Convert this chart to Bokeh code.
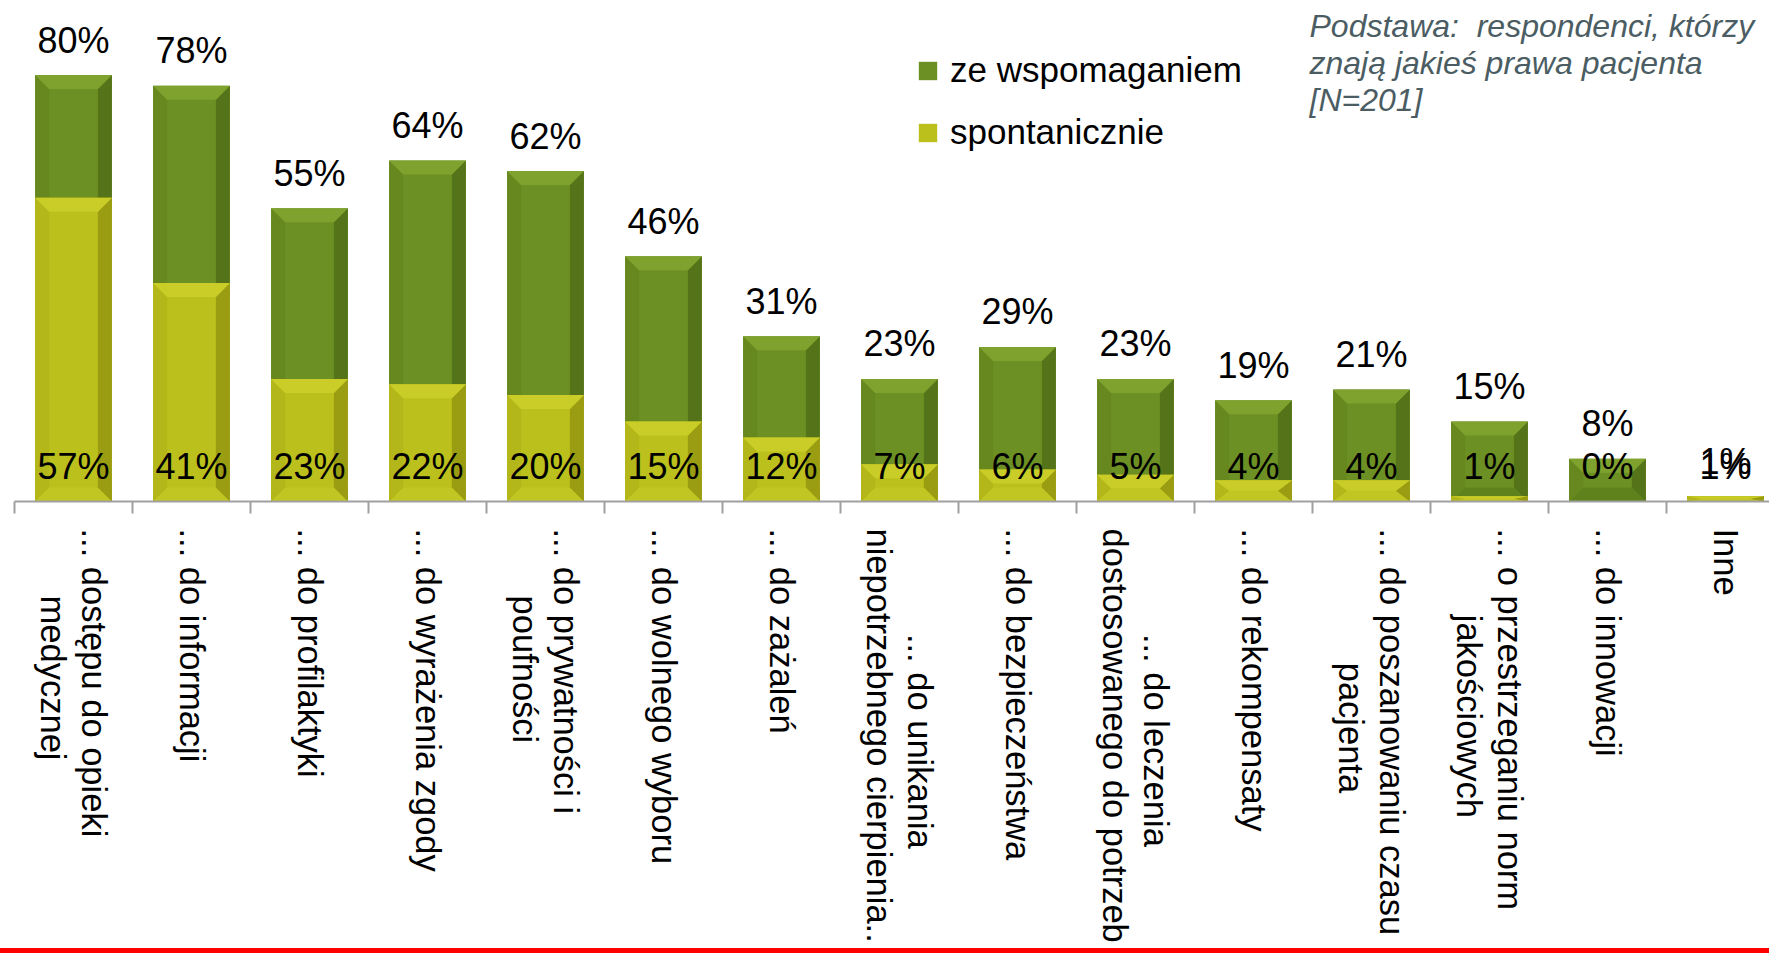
import numpy as np
from bokeh.plotting import figure
from bokeh.models import (Range1d, LinearAxis, FixedTicker, Legend, LegendItem,
                          Label, ColumnDataSource, Div)
from bokeh.layouts import column
from bokeh.core.properties import value
from bokeh.embed import file_html
from bokeh.resources import INLINE

# ---------------- data ----------------
categories = [
    "... dostępu do opieki\nmedycznej",
    "... do informacji",
    "... do profilaktyki",
    "... do wyrażenia zgody",
    "... do prywatności i\npoufności",
    "... do wolnego wyboru",
    "... do zażaleń",
    "... do unikania\nniepotrzebnego cierpienia..",
    "... do bezpieczeństwa",
    "... do leczenia\ndostosowanego do potrzeb",
    "... do rekompensaty",
    "... do poszanowaniu czasu\npacjenta",
    "... o przestrzeganiu norm\njakościowych",
    "... do innowacji",
    "Inne",
]
ze_wspomaganiem = [80, 78, 55, 64, 62, 46, 31, 23, 29, 23, 19, 21, 15, 8, 1]
spontanicznie = [57, 41, 23, 22, 20, 15, 12, 7, 6, 5, 4, 4, 1, 0, 1]
series_names = ["ze wspomaganiem", "spontanicznie"]
note_lines = ["Podstawa:\u00a0 respondenci, którzy", "znają jakieś prawa pacjenta", "[N=201]"]

# ---------------- styling / layout ----------------
SANS = "Liberation Sans"
GREEN = dict(face="#6d9024", top="#7fa22f", right="#557419", left="#66881f", bottom="#60821d")
YELLOW = dict(face="#bcc01c", top="#cacd27", right="#9a9d12", left="#b3b71a", bottom="#c2c622")

LEFT_BORDER = 14
FRAME_W, FRAME_H = 1769 - LEFT_BORDER, 501
BOTTOM_BORDER = 948 - FRAME_H
CAT_PX = 118.0
PX_PER_PCT = 5.33
BAR_W = 0.65
BEVEL_PX = 14
LABEL_GAP_PX = 35
# leading no-break spaces that centre the shorter line of a two-line tick label
CENTER_PAD = [7, 0, 0, 0, 7, 0, 0, 11, 0, 11, 0, 14, 9, 0, 0]


def centred(label, pad):
    lines = label.split("\n")
    if len(lines) < 2 or pad == 0:
        return label
    k = min(range(len(lines)), key=lambda i: len(lines[i]))
    lines[k] = "\u00a0" * pad + lines[k]
    return "\n".join(lines)


x_start = -0.5
x_end = x_start + FRAME_W / CAT_PX
y_end = FRAME_H / PX_PER_PCT

idx = list(range(len(categories)))

p = figure(frame_width=FRAME_W, frame_height=FRAME_H,
           x_range=Range1d(x_start, x_end), y_range=Range1d(0, y_end),
           output_backend="svg", toolbar_location=None,
           x_axis_location=None, y_axis_location=None,
           min_border_left=LEFT_BORDER, min_border_right=0, min_border_top=0,
           min_border_bottom=BOTTOM_BORDER, outline_line_color=None)
p.grid.visible = False

# category axis: labels at centres, tick marks at boundaries (minor ticks)
ax = LinearAxis(ticker=FixedTicker(ticks=idx, minor_ticks=[i - 0.5 for i in range(len(idx) + 1)]))
ax.major_label_overrides = {i: centred(c, CENTER_PAD[i]) for i, c in enumerate(categories)}
ax.major_label_orientation = -np.pi / 2
ax.major_label_text_font = SANS
ax.major_label_text_font_size = "34.5px"
ax.major_label_text_color = "black"
ax.major_label_text_line_height = 1.1
ax.major_label_standoff = 15
ax.major_tick_out = 10
ax.major_tick_in = 0
ax.major_tick_line_color = None
ax.minor_tick_out = 12
ax.minor_tick_in = 0
ax.minor_tick_line_color = "#a0a0a0"
ax.minor_tick_line_width = 2
ax.axis_line_color = "#a0a0a0"
ax.axis_line_width = 2
p.add_layout(ax, "below")


def bevel_sides(xs, bottoms, tops):
    bx_full = BEVEL_PX / CAT_PX
    by_full = BEVEL_PX / PX_PER_PCT
    out = {k: ([], []) for k in ("top", "right", "bottom", "left")}
    for xc, b, t in zip(xs, bottoms, tops):
        h = t - b
        if h <= 0:
            continue
        bx = min(bx_full, BAR_W / 2)
        by = min(by_full, h / 2)
        x0, x1 = xc - BAR_W / 2, xc + BAR_W / 2
        shapes = {
            "top": ([x0, x1, x1 - bx, x0 + bx], [t, t, t - by, t - by]),
            "bottom": ([x0, x1, x1 - bx, x0 + bx], [b, b, b + by, b + by]),
            "left": ([x0, x0, x0 + bx, x0 + bx], [b, t, t - by, b + by]),
            "right": ([x1, x1, x1 - bx, x1 - bx], [b, t, t - by, b + by]),
        }
        for k, (sx, sy) in shapes.items():
            out[k][0].append(sx)
            out[k][1].append(sy)
    return out


def draw_bars(vals, pal):
    r = p.vbar(x=idx, top=vals, bottom=0, width=BAR_W, fill_color=pal["face"], line_color=None)
    sides = bevel_sides(idx, [0] * len(vals), vals)
    for k in ("bottom", "left", "right", "top"):
        xs, ys = sides[k]
        if xs:
            p.patches(xs=xs, ys=ys, fill_color=pal[k], line_color=None)
    return r


r_green = draw_bars(ze_wspomaganiem, GREEN)
r_yellow = draw_bars(spontanicznie, YELLOW)

gap = LABEL_GAP_PX / PX_PER_PCT
src = ColumnDataSource(dict(
    x=idx,
    ty=[v + gap for v in ze_wspomaganiem],
    sy=[gap] * len(idx),
    tl=[f"{v}%" for v in ze_wspomaganiem],
    sl=[f"{v}%" for v in spontanicznie],
))
p.text(x="x", y="ty", text="tl", source=src, text_align="center",
       text_baseline="alphabetic", text_color="black",
       text_font=value(SANS), text_font_size="36px")
p.text(x="x", y="sy", text="sl", source=src, text_align="center",
       text_baseline="alphabetic", text_color="black",
       text_font=value(SANS), text_font_size="36px")

legend = Legend(items=[LegendItem(label=series_names[0], renderers=[r_green]),
                       LegendItem(label=series_names[1], renderers=[r_yellow])],
                location=(902, 349), orientation="vertical",
                label_text_font=SANS, label_text_font_size="35px",
                label_text_color="black",
                glyph_width=23, glyph_height=23, spacing=22, padding=0, margin=0,
                label_standoff=11, border_line_color=None, background_fill_alpha=0)
p.add_layout(legend)

note_y = [476, 439, 402]
for txt, yb in zip(note_lines, note_y):
    p.add_layout(Label(x=1295, y=yb, x_units="screen", y_units="screen", text=txt,
                       text_font=SANS, text_font_style="italic", text_font_size="32px",
                       text_color="#4b5d63", text_baseline="alphabetic"))

red = Div(text="", width=1769, height=5, margin=0,
          styles={"background-color": "#ff0000"})
layout = column(p, red, spacing=0)

open("out.html", "w").write(file_html(layout, INLINE))
